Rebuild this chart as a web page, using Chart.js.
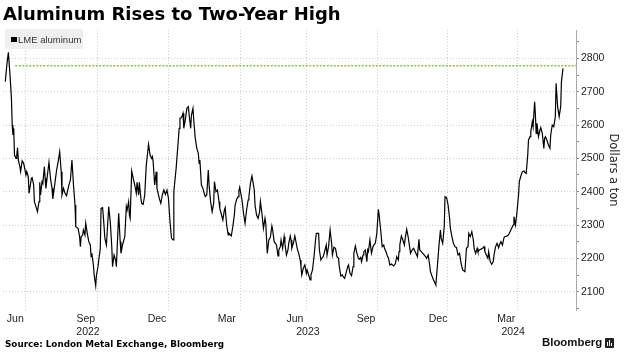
<!DOCTYPE html>
<html><head><meta charset="utf-8">
<script src="https://cdn.jsdelivr.net/npm/chart.js@4.4.1/dist/chart.umd.min.js"></script>
<style>
html,body{margin:0;padding:0;background:#fff;}
#wrap{position:relative;width:626px;height:354px;overflow:hidden;background:#fff;}
#c{position:absolute;left:0;top:0;}
.title{position:absolute;left:3px;top:5px;font-family:"DejaVu Sans";font-weight:bold;font-size:18px;line-height:1;color:#000;white-space:nowrap;}
.legend{position:absolute;left:5px;top:29px;width:78px;height:20px;background:#efefef;}
.legend .sq{position:absolute;left:6px;top:8px;width:6px;height:5px;background:#000;}
.legend .tx{position:absolute;left:13px;top:6px;font-family:"Liberation Sans";font-size:9.5px;line-height:1;color:#333;white-space:nowrap;}
.source{position:absolute;left:5px;top:340px;font-family:"DejaVu Sans";font-weight:bold;font-size:8.8px;line-height:1;color:#000;white-space:nowrap;}
.logo{position:absolute;left:542px;top:337px;font-family:"Liberation Sans";font-weight:bold;font-size:11.4px;line-height:1;color:#111;white-space:nowrap;}
.icon{position:absolute;left:605px;top:338px;width:9px;height:10px;background:#222;border-radius:1px;}
.icon i{position:absolute;bottom:2px;width:1px;background:#fff;}
</style></head>
<body>
<div id="wrap">
  <canvas id="c" width="626" height="354"></canvas>
  <div class="title">Aluminum Rises to Two-Year High</div>
  <div class="legend"><div class="sq"></div><div class="tx">LME aluminum</div></div>
  <div class="source">Source: London Metal Exchange, Bloomberg</div>
  <div class="logo">Bloomberg</div>
  <div class="icon"><i style="left:2px;height:4px"></i><i style="left:4px;height:6px"></i><i style="left:6px;height:3px"></i></div>
</div>
<script>
// x position: chart session-day index (0 = start of June 2022 on the chart's axis)
const days = [
  3,5,7,9,11,12,13,14,15,17,
  18,19,20,22,23,25,27,30,31,33,
  34,37,38,40,41,43,45,47,48,49,
  51,52,54,55,56,58,60,62,64,65,
  68,70,72,73,74,76,77,79,81,83,
  85,87,88,90,92,94,95,98,100,101,
  102,104,105,107,108,110,112,114,115,116,
  118,119,121,122,124,125,127,128,130,131,
  133,135,138,140,142,143,145,147,148,151,
  153,154,156,159,161,162,164,165,166,168,
  170,172,174,175,177,178,180,181,183,185,
  187,188,190,192,194,195,196,198,200,201,
  204,206,208,210,212,214,216,218,220,222,
  223,226,228,230,231,233,235,236,238,240,
  242,243,245,246,248,249,251,253,255,256,
  257,259,261,262,264,266,268,269,271,273,
  275,276,278,280,282,283,287,289,290,292,
  294,295,298,300,302,303,305,307,308,309,
  312,314,316,318,320,321,323,325,326,328,
  329,331,333,335,336,338,340,342,343,345,
  347,349,351,352,354,357,359,360,362,363,
  365,367,368,370,372,373,375,376,377,379,
  381,382,384,386,388,389,390,392,394,396,
  397,399,401,402,404,406,408,409,412,413,
  415,416,418,422,423,425,427,429,430,432,
  434,436,438,439,441,443,444,446,450,451,
  453,455,457,458,460,462,464,465,467,468,
  470,471,473,475,476,477,479,481,483,484,
  486,488,490,491,493,495,497,498,500,502,
  503,505,507,510,512,514,516,517,518,520,
  522,524,525,527,529,532,534,536,539,541,
  543,544,546,548,551,553,555,557,558,560,
  562,564,565,567,569,571,572,574,576,577,
  579,581,583,584,586,588,590,592,594,596,
  598,600,603,605,607,608,610,612,614,615,
  617,619,620,622,626,628,629,631,633,634,
  636,638,640,641,643,645,647,648,650,652,
  654,655,659,661,664,666,667,669,671,673,
  674,676,678,680,681,683,685,686,688,689,
  691,692,694,695,696,697,699,701,702,704,
  706,707,708,710,712,714,715,717,719,721,
  722,724,726,728,729,731
];
// LME aluminum, dollars a ton
const prices = [
  2730,2780,2818,2755,2680,2600,2570,2590,2510,2500,
  2510,2532,2495,2475,2460,2492,2485,2450,2460,2445,
  2395,2440,2442,2420,2370,2355,2340,2370,2428,2390,
  2430,2425,2475,2440,2410,2450,2488,2440,2410,2378,
  2430,2465,2490,2490,2520,2460,2390,2410,2395,2388,
  2410,2428,2435,2495,2420,2360,2295,2290,2265,2235,
  2265,2270,2285,2270,2305,2275,2250,2240,2205,2215,
  2180,2150,2118,2150,2175,2195,2230,2350,2352,2325,
  2260,2240,2355,2310,2235,2175,2210,2195,2175,2335,
  2250,2215,2240,2265,2355,2345,2370,2330,2320,2462,
  2440,2420,2395,2428,2390,2428,2380,2365,2362,2390,
  2478,2500,2542,2510,2500,2505,2490,2420,2460,2410,
  2380,2365,2390,2405,2392,2405,2380,2310,2260,2255,
  2400,2470,2530,2590,2620,2622,2635,2590,2615,2650,
  2655,2630,2590,2630,2650,2615,2560,2530,2515,2485,
  2495,2420,2410,2400,2385,2390,2465,2420,2370,2340,
  2365,2430,2400,2405,2370,2350,2315,2345,2352,2300,
  2270,2275,2267,2295,2330,2360,2377,2385,2403,2413,
  2375,2335,2305,2345,2375,2385,2425,2447,2433,2405,
  2360,2330,2320,2340,2370,2335,2290,2320,2305,2215,
  2255,2263,2297,2285,2250,2240,2207,2225,2235,2255,
  2230,2265,2245,2210,2225,2245,2267,2255,2230,2245,
  2267,2255,2230,2215,2195,2175,2150,2170,2180,2155,
  2165,2150,2135,2150,2165,2205,2255,2275,2275,2225,
  2195,2200,2205,2240,2210,2235,2285,2245,2210,2233,
  2230,2205,2200,2175,2147,2150,2145,2140,2175,2180,
  2155,2148,2175,2215,2237,2215,2200,2197,2203,2190,
  2210,2220,2225,2190,2225,2220,2255,2215,2235,2240,
  2245,2275,2347,2330,2285,2235,2240,2230,2220,2205,
  2203,2180,2183,2177,2183,2205,2195,2220,2240,2267,
  2255,2240,2260,2287,2263,2215,2225,2230,2215,2205,
  2257,2225,2220,2215,2207,2200,2210,2180,2160,2147,
  2135,2125,2120,2175,2235,2285,2260,2245,2295,2385,
  2383,2360,2320,2290,2265,2245,2235,2232,2210,2215,
  2185,2165,2160,2230,2235,2275,2265,2280,2255,2230,
  2215,2230,2220,2225,2230,2235,2220,2210,2200,2220,
  2190,2182,2190,2210,2235,2245,2232,2240,2250,2240,
  2262,2265,2268,2275,2290,2300,2325,2300,2340,2390,
  2430,2447,2460,2462,2458,2455,2510,2555,2565,2580,
  2610,2595,2670,2630,2575,2605,2565,2585,2592,2575,
  2530,2560,2565,2555,2540,2530,2570,2600,2595,2625,
  2725,2655,2625,2655,2730,2770
];
// quarter boundaries (vertical grid lines)
const quarterStarts = [30,124,216,310,396,489,580,672];
// month tick labels and their positions
const monthLabels = ['Jun','Sep','Dec','Mar','Jun','Sep','Dec','Mar'];
const monthPos = [16,108,201,292,381,474,568,657];
// year labels and positions
const yearLabels = ['2022','2023','2024'];
const yearPos = [111,398,666];
// y-axis labelled ticks
const yLabels = [2100,2200,2300,2400,2500,2600,2700,2800];
// two-year-high reference line
const highLevel = 2778;
const highFrom = 16;

const X_MIN = 0, X_MAX = 748, Y_MIN = 2045, Y_MAX = 2885;

const xTicks = [];
quarterStarts.forEach(v => xTicks.push({value:v, kind:'grid', label:''}));
monthLabels.forEach((l,i) => xTicks.push({value:monthPos[i], kind:'month', label:l}));
yearLabels.forEach((l,i) => xTicks.push({value:yearPos[i], kind:'year', label:['', l]}));
xTicks.sort((a,b) => a.value - b.value);

const yTickVals = [];
for (let v = 2050; v <= 2850; v += 50) yTickVals.push(v);
const yLabelSet = new Set(yLabels);

const GRID = '#cdcdcd';
const TXT = '#222';

new Chart(document.getElementById('c').getContext('2d'), {
  type: 'line',
  data: {
    datasets: [
      { data: days.map((d,i) => ({x:d, y:prices[i]})), borderColor:'#000', borderWidth:1.2,
        pointRadius:0, tension:0, fill:false, order:1 },
      { data: [{x:highFrom, y:highLevel}, {x:X_MAX, y:highLevel}], borderColor:'#84cc16', borderWidth:1.5,
        borderDash:[2,1.5], pointRadius:0, fill:false, order:2 }
    ]
  },
  options: {
    responsive:false, animation:false, devicePixelRatio:1,
    layout:{padding:{top:30, left:3, right:0, bottom:0}},
    plugins:{legend:{display:false}, tooltip:{enabled:false}, title:{display:false}},
    scales:{
      x:{
        type:'linear', position:'bottom', min:X_MIN, max:X_MAX,
        afterBuildTicks: s => { s.ticks = xTicks.map(t => ({value:t.value})); },
        afterFit: s => { s.height = 44; },
        ticks:{ autoSkip:false, maxRotation:0, minRotation:0, padding:3, color:TXT,
          font:{family:'Liberation Sans', size:10.5}, 
          callback:(v, i) => xTicks[i] ? xTicks[i].label : '' },
        grid:{ drawTicks:false, lineWidth:1,
          color: c => (xTicks[c.index] && xTicks[c.index].kind === 'grid') ? GRID : 'rgba(0,0,0,0)' },
        border:{ display:false, dash:[1,2] }
      },
      y:{
        type:'linear', position:'right', min:Y_MIN, max:Y_MAX,
        afterBuildTicks: s => { s.ticks = yTickVals.map(v => ({value:v})); },
        afterFit: s => { s.width = 50; },
        ticks:{ padding:2, color:TXT, font:{family:'Liberation Sans', size:10.5},
          callback: v => yLabelSet.has(v) ? String(v) : '' },
        grid:{ drawTicks:true, tickLength:3, tickColor:'#8a8a8a', tickWidth:1, lineWidth:1,
          color: c => (c.tick && yLabelSet.has(c.tick.value)) ? GRID : 'rgba(0,0,0,0)' },
        border:{ display:true, color:'#a9a9a9', width:1, dash:[1,2] },
        title:{ display:true, text:'Dollars a ton', color:TXT, font:{family:'DejaVu Sans', size:11.5},
          padding:{top:6, bottom:0} }
      }
    }
  }
});
</script>
</body></html>
